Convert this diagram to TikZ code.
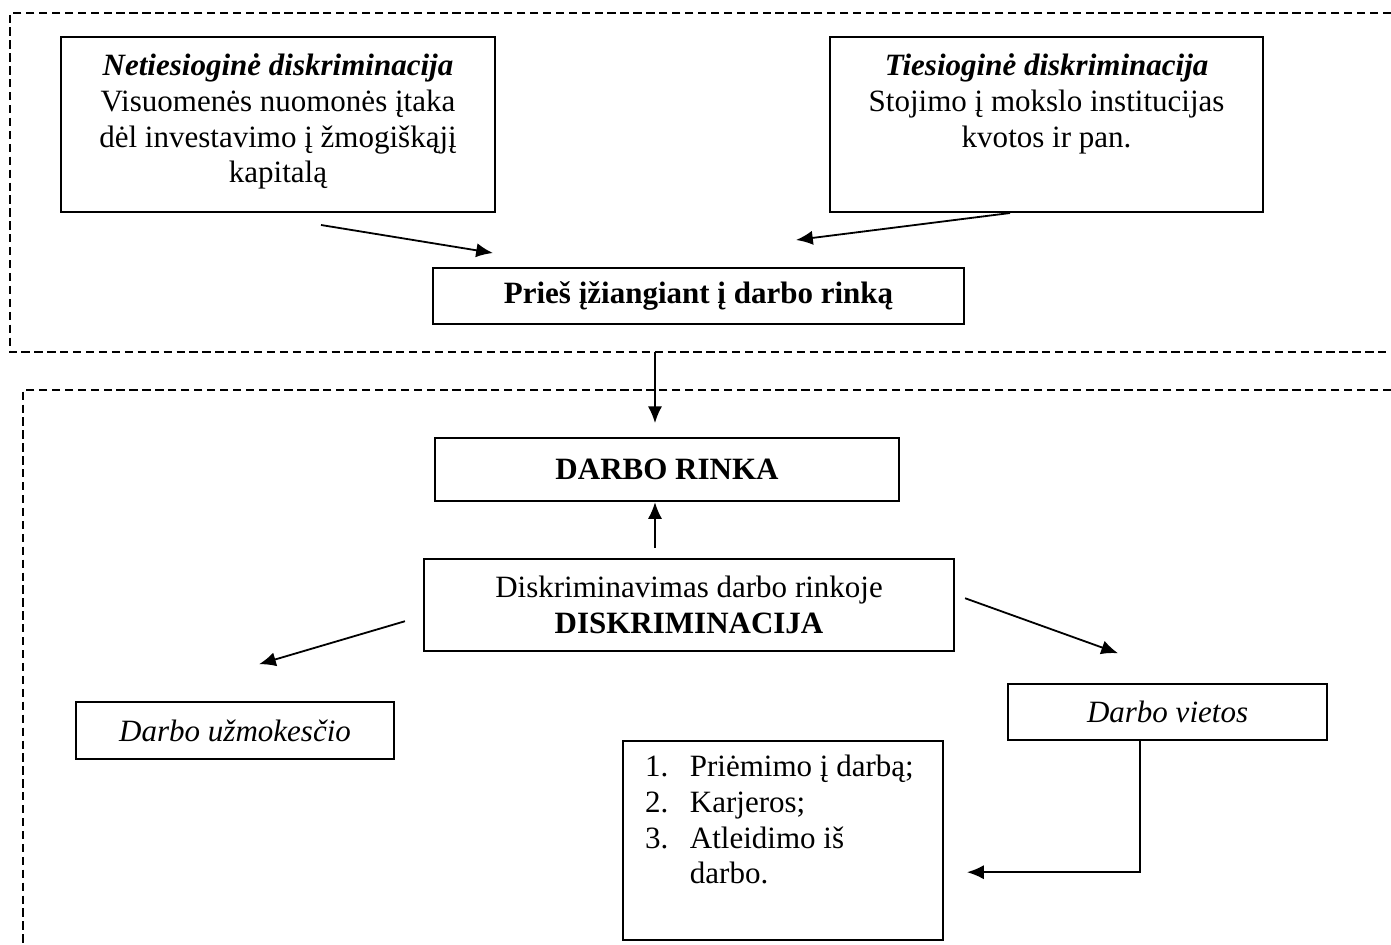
\documentclass[tikz,border=0pt]{standalone}
\usepackage{fontspec}
\setmainfont{Liberation Serif}
\usepackage{tikz}
\usetikzlibrary{positioning,arrows.meta}
\tikzstyle{block} = [rectangle, draw=black, line width=0.8pt, text centered, inner sep=0pt, font=\fontsize{12}{13.8}\selectfont]
\tikzstyle{arrow} = [line width=0.7pt,-{Latex[length=6.5pt,width=5.5pt]}]
\tikzstyle{frame} = [line width=0.55pt, dash pattern=on 3.2pt off 1.8pt]

\begin{document}
\begin{tikzpicture}
    \useasboundingbox (0,0) rectangle (18.918,-12.852);
    \draw [frame] (18.918,-0.177) -- (0.136,-0.177) -- (0.136,-4.787) -- (18.918,-4.787);
    \draw [frame] (18.918,-5.304) -- (0.313,-5.304) -- (0.313,-12.852);
    \coordinate (gap) at (8.908,-4.787);

    \node (net) [block] at (3.781,-1.693) {\parbox[c][2.38cm][t]{5.902cm}{\centering\vspace*{0.23cm}\textbf{\textit{Netiesioginė diskriminacija}}\\ Visuomenės nuomonės įtaka\\ dėl investavimo į žmogiškąjį\\ kapitalą}};
    \node (tie) [block, right=4.529cm of net] {\parbox[c][2.38cm][t]{5.889cm}{\centering\vspace*{0.23cm}\textbf{\textit{Tiesioginė diskriminacija}}\\ Stojimo į mokslo institucijas\\ kvotos ir pan.}};
    \node (pries) [block, minimum width=7.222cm, minimum height=0.762cm, below=0.734cm of net, xshift=5.719cm] {\textbf{Prieš įžiangiant į darbo rinką}};
    \node (rinka) [block, minimum width=6.31cm, minimum height=0.857cm, below=1.523cm of pries, xshift=-0.428cm] {\textbf{DARBO RINKA}};
    \node (disk) [block, minimum width=7.208cm, minimum height=1.251cm, align=center, below=0.762cm of rinka, xshift=0.299cm] {Diskriminavimas darbo rinkoje\\ \textbf{DISKRIMINACIJA}};
    \node (uzm) [block, minimum width=4.325cm, minimum height=0.775cm, below=0.666cm of disk, xshift=-6.174cm] {\textit{Darbo užmokesčio}};
    \node (vietos) [block, minimum width=4.338cm, minimum height=0.762cm, below=0.422cm of disk, xshift=6.508cm] {\textit{Darbo vietos}};
    \node (list) [block, below=1.197cm of disk, xshift=1.278cm] {\parbox[c][2.706cm][t]{4.352cm}{\raggedright\leftskip=0.3cm\vspace*{0.19cm}\makebox[0.61cm][l]{1.}Priėmimo į darbą;\\ \makebox[0.61cm][l]{2.}Karjeros;\\ \makebox[0.61cm][l]{3.}Atleidimo iš\\ \hspace*{0.61cm}darbo.}};

    \draw [arrow] ([xshift=0.585cm,yshift=-0.163cm]net.south) -- ([xshift=-2.795cm,yshift=0.19cm]pries.north);
    \draw [arrow] ([xshift=-0.496cm]tie.south) -- ([xshift=1.326cm,yshift=0.367cm]pries.north);
    \draw [arrow, shorten >=0.19cm] (gap) -- (gap |- rinka.north);
    \draw [arrow, shorten <=0.136cm] (gap |- disk.north) -- (gap |- rinka.south);
    \draw [arrow] ([xshift=-0.245cm,yshift=-0.218cm]disk.west) -- ([xshift=0.326cm,yshift=0.503cm]uzm.north);
    \draw [arrow] ([xshift=0.136cm,yshift=0.095cm]disk.east) -- ([xshift=-0.673cm,yshift=0.408cm]vietos.north);
    \draw [arrow] ([xshift=-0.374cm]vietos.south) |- ([xshift=0.313cm,yshift=-0.428cm]list.east);
\end{tikzpicture}
\end{document}
